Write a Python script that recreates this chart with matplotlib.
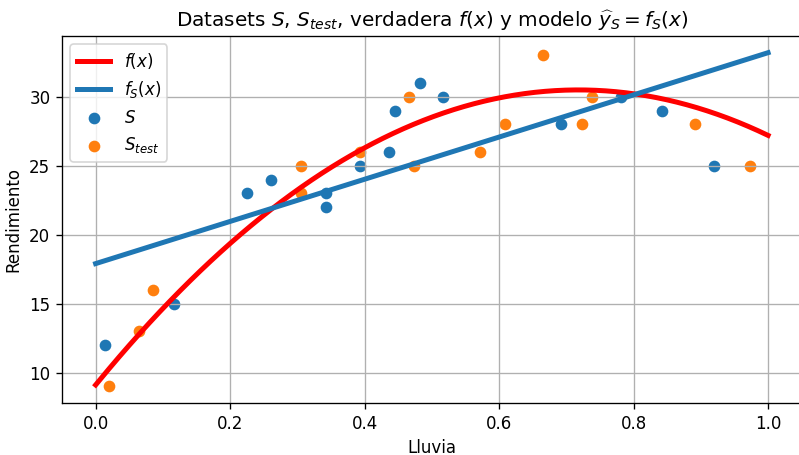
import numpy as np
import matplotlib
matplotlib.use('Agg')
import matplotlib.pyplot as plt

# datos
lluvia_S = [0.014, 0.117, 0.225, 0.261, 0.343, 0.343, 0.393, 0.436, 0.445,
            0.482, 0.517, 0.692, 0.781, 0.842, 0.920]
rend_S = [12, 15, 23, 24, 22, 23, 25, 26, 29, 31, 30, 28, 30, 29, 25]

lluvia_test = [0.020, 0.064, 0.085, 0.305, 0.305, 0.393, 0.466, 0.474, 0.572,
               0.609, 0.665, 0.724, 0.738, 0.892, 0.973]
rend_test = [9, 13, 16, 25, 23, 26, 30, 25, 26, 28, 33, 28, 30, 28, 25]

coef_f = [-41.5, 59.6, 9.1]    # f(x) verdadera (cuadratica)
coef_fS = [15.3, 17.9]         # modelo lineal f_S(x)

x = np.linspace(0, 1, 200)

fig = plt.figure(figsize=(799/120., 455/120.), dpi=120)
ax = fig.add_axes([62/799., 52/455., 739.7/799., 367/455.])

ax.plot(x, np.polyval(coef_f, x), color='red', lw=3, label='$f(x)$')
ax.plot(x, np.polyval(coef_fS, x), color='tab:blue', lw=3, label='$f_S(x)$')
ax.scatter(lluvia_S, rend_S, color='tab:blue', label='$S$')
ax.scatter(lluvia_test, rend_test, color='tab:orange', label='$S_{test}$')

ax.set_yticks([10, 15, 20, 25, 30])
ax.set_xlabel('Lluvia')
ax.set_ylabel('Rendimiento')
ax.set_title(r'Datasets $S$, $S_{test}$, verdadera $f(x)$ y modelo $\widehat{y}_S = f_S(x)$')
ax.grid()
ax.legend(loc='upper left')

fig.savefig('out.png', dpi=120)
